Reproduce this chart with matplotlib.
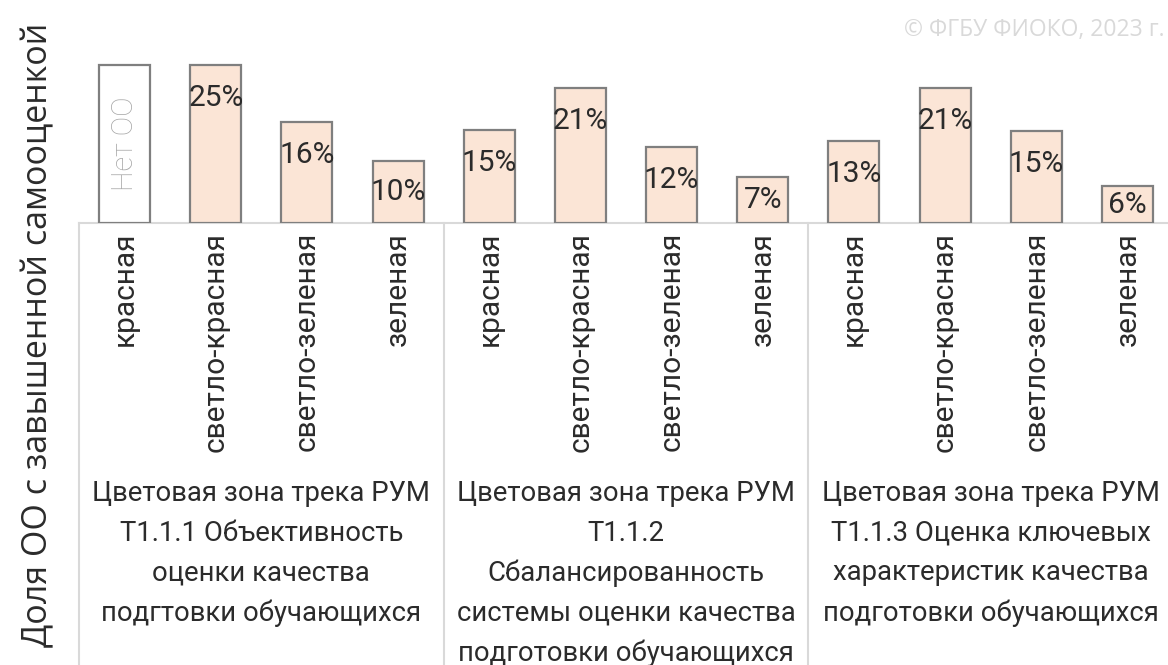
import matplotlib
matplotlib.use("Agg")
import matplotlib.pyplot as plt
from matplotlib.transforms import blended_transform_factory

# ---------------- data ----------------
group_labels = [
    "Цветовая зона трека РУМ\nТ1.1.1 Объективность\nоценки качества\nподгтовки обучающихся",
    "Цветовая зона трека РУМ\nТ1.1.2\nСбалансированность\nсистемы оценки качества\nподготовки обучающихся",
    "Цветовая зона трека РУМ\nТ1.1.3 Оценка ключевых\nхарактеристик качества\nподготовки обучающихся",
]
zone_labels = ["красная", "светло-красная", "светло-зеленая", "зеленая"]
group1_values = [None, 25.0, 16.0, 9.8]
group2_values = [14.7, 21.4, 12.0, 7.3]
group3_values = [13.0, 21.4, 14.6, 5.8]
no_data_text = "Нет ОО"
y_label = "Доля ОО с завышенной самооценкой"
copyright_text = "© ФГБУ ФИОКО, 2023 г."

# ---------------- style ----------------
FONT = ["Roboto", "DejaVu Sans"]
FONT2 = ["Open Sans", "DejaVu Sans"]
WEIGHT = "normal"
BAR_FILL = "#fbe5d6"
BAR_EDGE = "#7f7f7f"
GRID = "#d9d9d9"
TEXT = "#2b2b2b"

W, H = 1168, 665
fig = plt.figure(figsize=(W / 100, H / 100), dpi=100)
base_px = 223
ax = fig.add_axes([79 / W, (H - base_px) / H, 1094 / W, base_px / H])

all_values = group1_values + group2_values + group3_values
n_cat = len(all_values)
vmax = max(v for v in all_values if v is not None)
px_per_unit = 158 / vmax
ax.set_xlim(-0.5, n_cat - 0.5)
ax.set_ylim(0, base_px / px_per_unit)

xs = list(range(n_cat))
heights = [vmax if v is None else v for v in all_values]
fills = ["white" if v is None else BAR_FILL for v in all_values]
ax.bar(xs, heights, width=0.56, color=fills, edgecolor=BAR_EDGE, linewidth=1.6, zorder=3)

# value labels
for x, v in zip(xs, all_values):
    if v is None:
        ax.text(x, vmax / 2, no_data_text, rotation=90, ha="center", va="center",
                fontsize=21, color="#a6a6a6", family=FONT, fontweight="light", zorder=4)
        continue
    y = max(v - 33 / px_per_unit, v / 2)
    ax.text(x, y, f"{round(v)}%", ha="center", va="center", fontsize=21.5,
            color=TEXT, family=FONT, fontweight=WEIGHT, zorder=4)

for s in ["top", "right", "left"]:
    ax.spines[s].set_visible(False)
ax.spines["bottom"].set_color(GRID)
ax.spines["bottom"].set_linewidth(1.5)
ax.set_xticks([])
ax.set_yticks([])

trans = blended_transform_factory(ax.transData, ax.transAxes)
ax_px = base_px
# category labels
for i, x in enumerate(xs):
    ax.text(x, -9 / ax_px, zone_labels[i % len(zone_labels)], rotation=90,
            ha="center", va="top", fontsize=21.5, color=TEXT, family=FONT,
            fontweight=WEIGHT, transform=trans)

# group separators and labels
n_per = len(zone_labels)
for g, lab in enumerate(group_labels):
    x0 = g * n_per - 0.5
    ax.plot([x0, x0], [0, -(H - base_px) / ax_px], color=GRID, lw=1.5,
            transform=trans, clip_on=False)
    ax.text(x0 + n_per / 2, -257 / ax_px, lab, ha="center", va="top",
            fontsize=19.8, color=TEXT, family=FONT, fontweight=WEIGHT,
            linespacing=1.6, transform=trans)
x_end = len(group_labels) * n_per - 0.5
ax.plot([x_end, x_end], [0, -(H - base_px) / ax_px], color=GRID, lw=1.5,
        transform=trans, clip_on=False)

fig.text(38 / W, 1 - 335 / H, y_label, rotation=90, ha="center", va="center",
         fontsize=24.5, color=TEXT, family=FONT2)
fig.text(1165 / W, 1 - 30 / H, copyright_text, ha="right", va="center",
         fontsize=16.5, color="#d9d9d9", family=FONT2)

fig.savefig("out.png", dpi=100)
